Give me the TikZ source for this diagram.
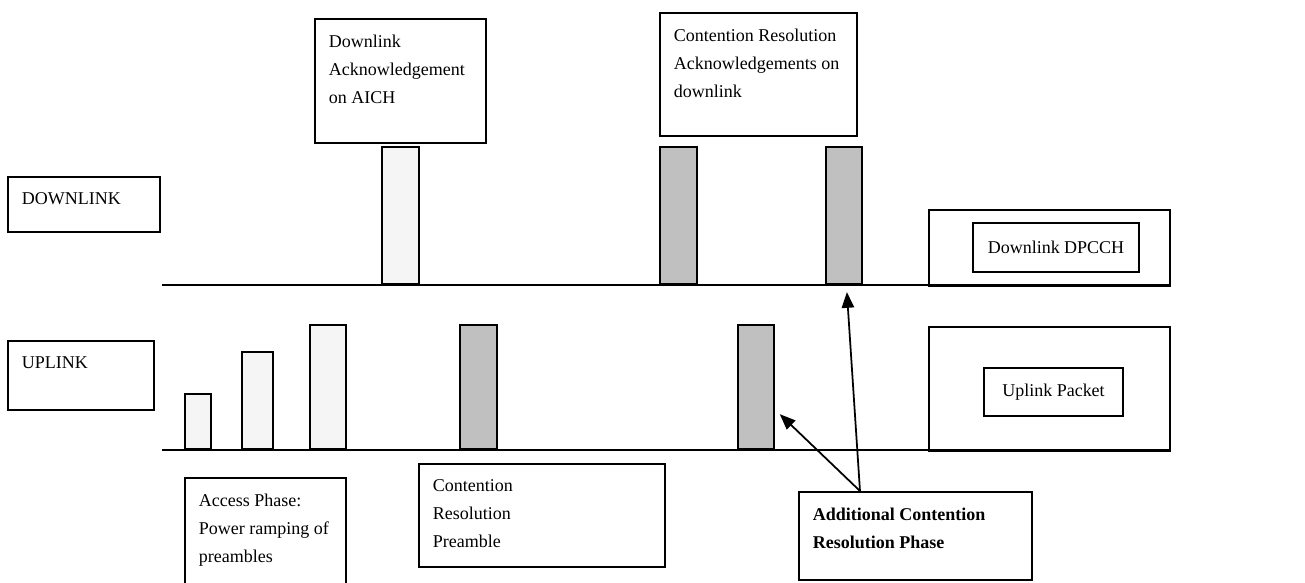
\documentclass[tikz,border=0pt]{standalone}
\usepackage{fontspec}
\setmainfont{Liberation Serif}
\usepackage{tikz}
\usetikzlibrary{positioning,arrows.meta}
\definecolor{barlight}{RGB}{245,245,245}
\definecolor{bargray}{RGB}{192,192,192}
\tikzset{
	box/.style={draw,anchor=north west,inner sep=0pt},
	bar/.style={draw,anchor=south west,inner sep=0pt},
	txt/.style={align=left,inner sep=0pt,below right=0.32cm and 0.28cm of #1},
	arr/.style={-{Triangle[length=9pt,width=7pt]}}
}

\begin{document}
\begin{tikzpicture}[x=0.02cm,y=-0.02cm,line width=1pt,font=\fontsize{10.24}{15.9}\selectfont]
	\useasboundingbox (0,0) rectangle (1305,582);
	\node[box,minimum width=3.04cm,minimum height=1.10cm] (downbox) at (7,176) {};
	\node[txt=downbox.north west] (downtxt) {DOWNLINK};
	\node[box,minimum width=2.92cm,minimum height=1.38cm] (upbox) at (7,340) {};
	\node[txt=upbox.north west] (uptxt) {UPLINK};
	\node[box,minimum width=3.42cm,minimum height=2.48cm] (ackbox) at (314,18) {};
	\node[txt=ackbox.north west] (acktxt) {Downlink\\Acknowledgement\\on AICH};
	\node[box,minimum width=3.94cm,minimum height=2.46cm] (crackbox) at (659,12) {};
	\node[txt=crackbox.north west] (cracktxt) {Contention Resolution\\Acknowledgements on\\downlink};
	\node[box,minimum width=3.22cm,minimum height=2.36cm] (accessbox) at (184,477) {};
	\node[txt=accessbox.north west] (accesstxt) {Access Phase:\\Power ramping of\\preambles};
	\node[box,minimum width=4.92cm,minimum height=2.06cm] (crprebox) at (418,463) {};
	\node[txt=crprebox.north west] (crpretxt) {Contention\\Resolution\\Preamble};
	\node[box,minimum width=4.66cm,minimum height=1.76cm] (acrpbox) at (798,491) {};
	\node[txt=acrpbox.north west,font=\fontsize{10.24}{15.9}\selectfont\bfseries] (acrptxt) {Additional Contention\\Resolution Phase};

	\draw (162,285) -- (1169,285);
	\draw (162,450) -- (1169,450);

	\node[box,minimum width=4.82cm,minimum height=1.52cm] (dpcchbox) at (928,209) {};
	\node[draw,minimum width=3.32cm,minimum height=0.98cm,inner sep=0pt] (dpcch) at (1056,247.5) {Downlink DPCCH};
	\node[box,minimum width=4.82cm,minimum height=2.48cm] (packetbox) at (928,326) {};
	\node[draw,minimum width=2.78cm,minimum height=0.96cm,inner sep=0pt] (packet) at (1053.5,392) {Uplink Packet};

	\node[bar,fill=barlight,minimum width=0.74cm,minimum height=2.74cm] (dack) at (381,285) {};
	\node[bar,fill=bargray,minimum width=0.74cm,minimum height=2.74cm] (dcr1) at (659,285) {};
	\node[bar,fill=bargray,minimum width=0.72cm,minimum height=2.74cm] (dcr2) at (825,285) {};
	\node[bar,fill=barlight,minimum width=0.52cm,minimum height=1.10cm] (pre1) at (184,450) {};
	\node[bar,fill=barlight,minimum width=0.62cm,minimum height=1.94cm] (pre2) at (241,450) {};
	\node[bar,fill=barlight,minimum width=0.72cm,minimum height=2.48cm] (pre3) at (309,450) {};
	\node[bar,fill=bargray,minimum width=0.74cm,minimum height=2.48cm] (ucr1) at (459,450) {};
	\node[bar,fill=bargray,minimum width=0.72cm,minimum height=2.48cm] (ucr2) at (737,450) {};

	\draw[arr] ([xshift=1.24cm]acrpbox.north west) -- ([shift={(0.06cm,-0.14cm)}]dcr2.south);
	\draw[arr] ([xshift=1.24cm]acrpbox.north west) -- ([shift={(0.10cm,-0.54cm)}]ucr2.east);
\end{tikzpicture}
\end{document}
